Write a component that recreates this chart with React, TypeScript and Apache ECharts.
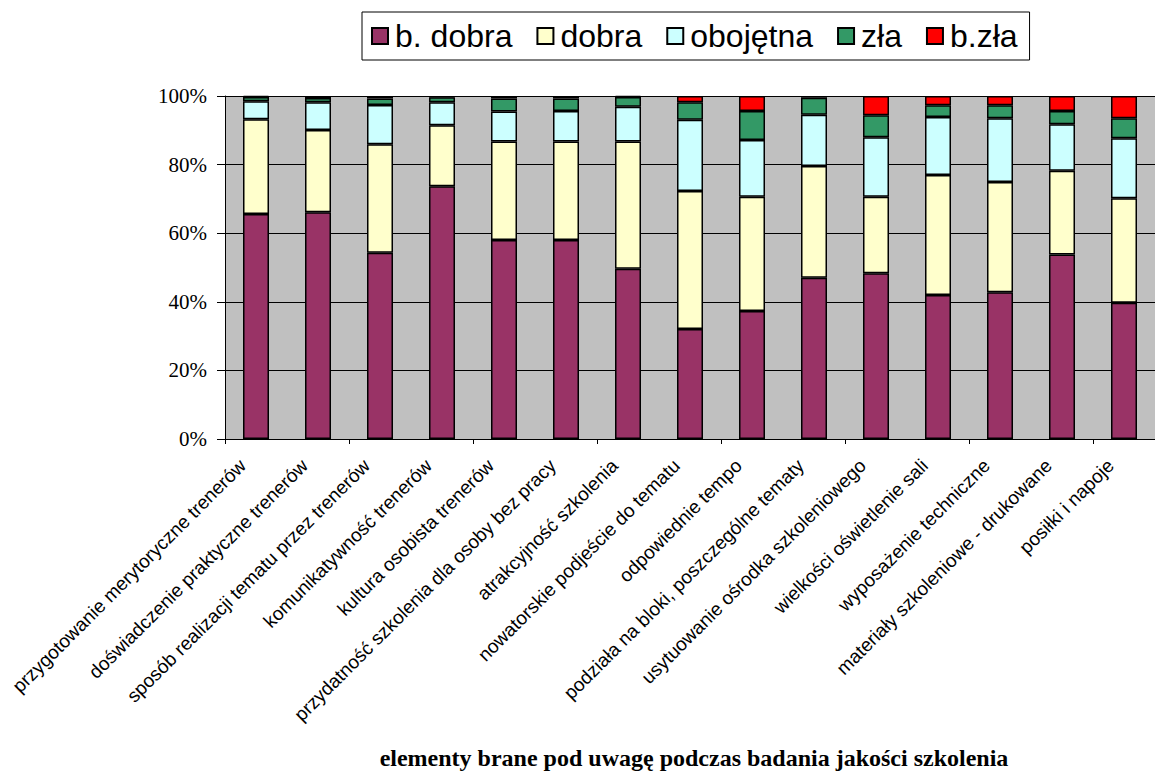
import React, { useEffect, useRef } from "react";
import * as echarts from "echarts";

const categories = [
  "przygotowanie merytoryczne trenerów",
  "doświadczenie praktyczne trenerów",
  "sposób realizacji tematu przez trenerów",
  "komunikatywność trenerów",
  "kultura osobista trenerów",
  "przydatność szkolenia dla osoby bez pracy",
  "atrakcyjność szkolenia",
  "nowatorskie podjeście do tematu",
  "odpowiednie tempo",
  "podziała na bloki, poszczególne tematy",
  "usytuowanie ośrodka szkoleniowego",
  "wielkości oświetlenie sali",
  "wyposażenie techniczne",
  "materiały szkoleniowe - drukowane",
  "posiłki i napoje",
];

const seriesNames = ["b. dobra", "dobra", "obojętna", "zła", "b.zła"];

const bDobra = [65.6, 66.1, 54.3, 73.7, 58.0, 58.0, 49.6, 32.1, 37.3, 47.0, 48.3, 42.0, 42.8, 53.8, 39.7];
const dobra = [27.6, 24.0, 31.6, 17.8, 28.7, 28.7, 37.1, 40.2, 33.3, 32.6, 22.3, 35.0, 32.1, 24.4, 30.5];
const obojetna = [5.3, 8.1, 11.5, 6.7, 8.8, 8.9, 10.2, 20.8, 16.6, 14.9, 17.4, 16.9, 18.6, 13.6, 17.5];
const zla = [1.2, 1.2, 1.9, 1.4, 3.8, 3.7, 2.8, 5.1, 8.4, 5.0, 6.4, 3.4, 3.8, 3.8, 5.8];
const bZla = [0.3, 0.6, 0.7, 0.4, 0.7, 0.7, 0.3, 1.8, 4.4, 0.5, 5.6, 2.7, 2.7, 4.4, 6.5];

const yTicks = [0, 20, 40, 60, 80, 100];

const xTitle = "elementy brane pod uwagę podczas badania jakości szkolenia";

const colors = ["#993366", "#FFFFCC", "#CCFFFF", "#339966", "#FF0000"];

export default function App() {
  const ref = useRef<HTMLDivElement>(null);
  useEffect(() => {
    document.body.style.margin = "0";
    const chart = echarts.init(ref.current!, null, { renderer: "svg" });
    const values = [bDobra, dobra, obojetna, zla, bZla];
    chart.setOption({
      animation: false,
      backgroundColor: "#FFFFFF",
      legend: {
        data: seriesNames,
        left: 362,
        top: 12,
        width: 690,
        padding: [8, 12, 8, 9],
        borderColor: "#000",
        borderWidth: 1,
        itemWidth: 16,
        itemHeight: 16,
        itemGap: 24,
        icon: "rect",
        textStyle: {
          fontFamily: "Liberation Sans",
          fontSize: 32,
          color: "#000",
          padding: [0, 0, 0, 2],
        },
      },
      grid: {
        left: 225,
        top: 96,
        width: 940,
        height: 343,
        show: true,
        backgroundColor: "#C0C0C0",
        borderWidth: 0,
        containLabel: false,
      },
      xAxis: {
        type: "category",
        data: categories,
        axisLine: { lineStyle: { color: "#000", width: 1 } },
        axisTick: { show: true, interval: 1, length: 5, lineStyle: { color: "#000" } },
        axisLabel: {
          interval: 0,
          rotate: 45,
          fontFamily: "Liberation Sans",
          fontSize: 19,
          color: "#000",
          margin: 10,
          padding: [0, 19, 0, 0],
        },
      },
      yAxis: {
        type: "value",
        min: yTicks[0],
        max: yTicks[yTicks.length - 1],
        interval: 20,
        axisLine: { show: true, lineStyle: { color: "#000", width: 1 } },
        axisTick: { show: true, length: 8, lineStyle: { color: "#000" } },
        axisLabel: {
          formatter: "{value}%",
          fontFamily: "Liberation Serif",
          fontSize: 21,
          color: "#000",
          margin: 18,
        },
        splitLine: { show: true, lineStyle: { color: "#000", width: 1 } },
      },
      graphic: [
        {
          type: "text",
          x: 694,
          y: 758,
          style: {
            text: xTitle,
            fontFamily: "Liberation Serif",
            fontWeight: "bold",
            fontSize: 24,
            fill: "#000",
            textAlign: "center",
            textVerticalAlign: "middle",
          },
        },
      ],
      series: seriesNames.map((name, i) => ({
        name,
        type: "bar",
        stack: "total",
        barWidth: 26,
        data: values[i],
        itemStyle: { color: colors[i], borderColor: "#000", borderWidth: 1.5 },
      })),
    });
    return () => chart.dispose();
  }, []);
  return <div ref={ref} style={{ width: 1155, height: 771 }} />;
}
